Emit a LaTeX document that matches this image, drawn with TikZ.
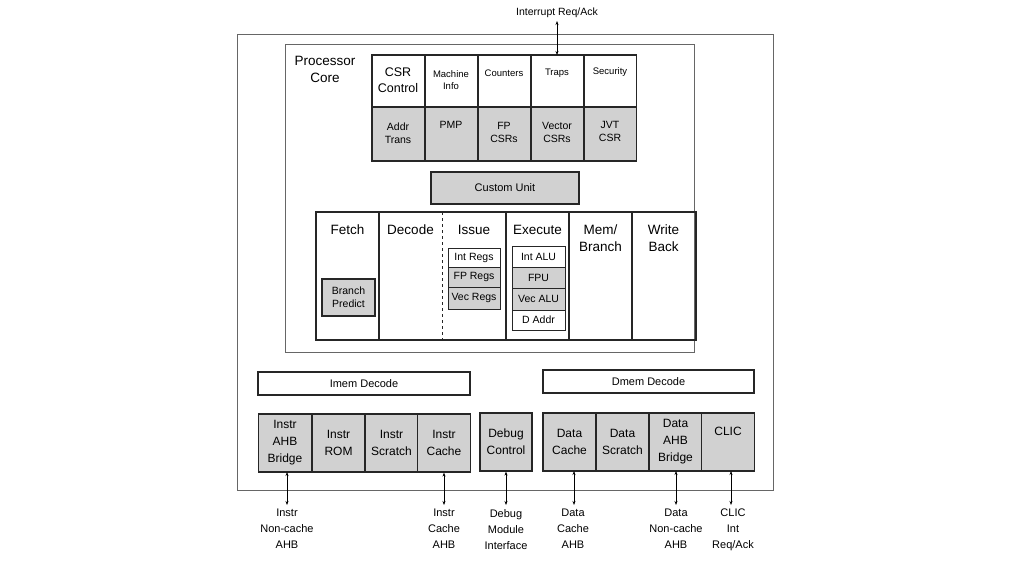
\documentclass[tikz,border=0pt]{standalone}
\usepackage{fontspec}
\setmainfont{Liberation Sans}
\usetikzlibrary{arrows.meta}
\begin{document}
\begin{tikzpicture}[x=1pt,y=-1pt,
  box/.style={draw=black!85,line width=1.2pt},
  gbox/.style={box,fill=black!18},
  lbl/.style={align=center,font=\fontsize{10.5}{13}\selectfont,inner sep=0pt},
  big/.style={align=center,font=\fontsize{13.5}{17}\selectfont,inner sep=0pt},
  io/.style={{Stealth[length=4pt,width=3pt]}-{Stealth[length=4pt,width=3pt]},line width=0.6pt},
  ext/.style={align=center,font=\fontsize{11}{16}\selectfont,inner sep=0pt}]
\useasboundingbox (0,0) rectangle (1024,576);
\draw[black!60,line width=0.8pt] (237,34) rectangle (773,490);
\draw[black!60,line width=0.8pt] (285,44) rectangle (694,352);
\node[big,anchor=north] (pc) at (325,56) {Processor\\Core};
% CSR grid
\foreach \x in {372,425,478,531,584}{
  \draw[box] (\x,55) rectangle +(52.5,52);
  \draw[gbox] (\x,107) rectangle +(52.5,54);
}
\node[lbl,font=\fontsize{12.5}{16}\selectfont] (c1) at (398,80) {CSR\\Control};
\node[lbl,font=\fontsize{9.5}{12.5}\selectfont] (c2) at (451,80) {Machine\\Info};
\node[lbl,font=\fontsize{9.5}{12}\selectfont] (c3) at (504,73) {Counters};
\node[lbl,font=\fontsize{9.5}{12}\selectfont] (c4) at (557,73) {Traps};
\node[lbl,font=\fontsize{9.5}{12}\selectfont] (c5) at (610,72) {Security};
\node[lbl] (d1) at (398,133) {Addr\\Trans};
\node[lbl] (d2) at (451,125) {PMP};
\node[lbl] (d3) at (504,132) {FP\\CSRs};
\node[lbl] (d4) at (557,132) {Vector\\CSRs};
\node[lbl] (d5) at (610,131) {JVT\\CSR};
\coordinate (ctop) at (557,55);
\node[lbl,font=\fontsize{10.5}{12}\selectfont] (irq) at (557,13) {Interrupt Req/Ack};
\draw[io] (ctop) -- (557,21);
% custom
\node[gbox,minimum width=148pt,minimum height=32pt,font=\fontsize{11}{13}\selectfont] (cu) at (505,188) {Custom Unit};
% pipeline
\draw[box] (316,212) rectangle (696,340);
\foreach \x in {379,506,569,632} \draw[box] (\x,212) -- (\x,340);
\draw[box,dashed,line width=1pt] (442,212) -- (442,340);
\node[big] (f) at (347.5,230) {Fetch};
\node[big] (dc) at (410.5,230) {Decode};
\node[big] (is) at (474,230) {Issue};
\node[big] (ex) at (537.5,230) {Execute};
\node[big] (mb) at (600.5,238) {Mem/\\Branch};
\node[big] (wb) at (663.5,238) {Write\\Back};
\node[gbox,minimum width=53pt,minimum height=37pt,lbl] (bp) at (348.5,297.5) {Branch\\Predict};
\node[box,line width=0.8pt,minimum width=52pt,minimum height=19pt,lbl] (ir) at (474,257.5) {Int Regs};
\node[gbox,line width=0.8pt,minimum width=52pt,minimum height=20pt,lbl] (fr) at (474,277) {FP Regs};
\node[gbox,line width=0.8pt,minimum width=52pt,minimum height=22pt,lbl] (vr) at (474,298) {Vec Regs};
\node[box,line width=0.8pt,minimum width=53pt,minimum height=21pt,lbl] (ia) at (538.5,256.5) {Int ALU};
\node[gbox,line width=0.8pt,minimum width=53pt,minimum height=21pt,lbl] (fp) at (538.5,277.5) {FPU};
\node[gbox,line width=0.8pt,minimum width=53pt,minimum height=22pt,lbl] (va) at (538.5,299) {Vec ALU};
\node[box,line width=0.8pt,minimum width=53pt,minimum height=20pt,lbl] (da) at (538.5,320) {D Addr};
% decodes
\node[box,minimum width=212pt,minimum height=23pt,font=\fontsize{11}{13}\selectfont] (im) at (364,383.5) {Imem Decode};
\node[box,minimum width=211pt,minimum height=23pt,font=\fontsize{11}{13}\selectfont] (dm) at (648.5,381.5) {Dmem Decode};
% bottom boxes
\tikzset{bb/.style={gbox,minimum width=53pt,minimum height=58pt,align=center,font=\fontsize{12}{17}\selectfont,inner sep=0pt}}
\node[bb] (b1) at (285,443) {Instr\\AHB\\Bridge};
\node[bb] (b2) at (338.5,443) {Instr\\ROM};
\node[bb] (b3) at (391.5,443) {Instr\\Scratch};
\node[bb] (b4) at (444,443) {Instr\\Cache};
\node[bb,minimum width=52pt] (b5) at (506,442) {Debug\\Control};
\node[bb] (b6) at (569.5,442) {Data\\Cache};
\node[bb] (b7) at (622.5,442) {Data\\Scratch};
\node[bb] (b8) at (675.5,442) {Data\\AHB\\Bridge};
\node[bb,text depth=22pt] (b9) at (728,442) {CLIC};
% external
\node[ext,anchor=north] (e1) at (287,509) {Instr\\Non-cache\\AHB};
\node[ext,anchor=north] (e2) at (444,509) {Instr\\Cache\\AHB};
\node[ext,anchor=north] (e3) at (506,509) {Debug\\Module\\Interface};
\node[ext,anchor=north] (e4) at (573,509) {Data\\Cache\\AHB};
\node[ext,anchor=north] (e5) at (676,509) {Data\\Non-cache\\AHB};
\node[ext,anchor=north] (e6) at (733,509) {CLIC\\Int\\Req/Ack};
\draw[io] (287,472) -- (287,505);
\draw[io] (b4.south) -- (444,505);
\draw[io] (b5.south) -- (506,505);
\draw[io] (574,471) -- (574,505);
\draw[io] (676,471) -- (676,505);
\draw[io] (731,471) -- (731,505);
\end{tikzpicture}
\end{document}
